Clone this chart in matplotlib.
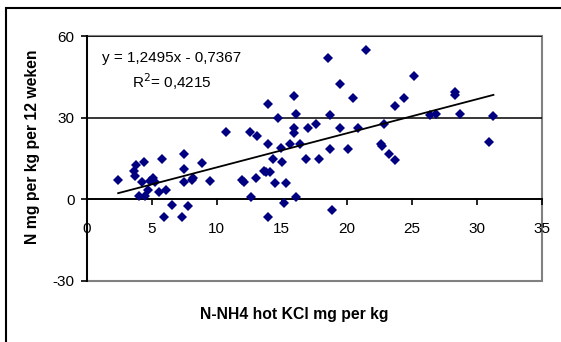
import numpy as np
import matplotlib
matplotlib.use("Agg")
import matplotlib.pyplot as plt
from matplotlib.patches import Rectangle

plt.rcParams['font.family'] = ['Liberation Sans', 'DejaVu Sans']
plt.rcParams['axes.unicode_minus'] = False

# N-NH4 hot KCl (mg/kg) vs N mineralised in 12 weeks (mg/kg)
nh4_kcl = [2.4, 3.6, 3.8, 3.7, 4.0, 4.4, 4.5, 4.2, 4.7, 4.85, 5.05, 5.25, 5.55, 5.8,
           6.1, 5.95, 6.55, 7.3, 7.5, 7.5, 7.5, 7.75, 8.05, 8.2, 8.85, 9.5, 10.7, 11.9,
           12.1, 12.55, 12.6, 13.05, 13.1, 13.6, 13.75, 13.95, 13.95, 14.1, 14.3, 13.95,
           14.5, 14.7, 14.95, 15.0, 15.3, 15.15, 15.6, 15.95, 15.95, 15.95, 16.1, 16.1,
           16.4, 16.9, 17.0, 17.6, 17.85, 18.55, 18.7, 18.7, 18.85, 19.45, 19.45, 20.1,
           20.5, 20.85, 21.45, 22.65, 22.7, 22.85, 23.25, 23.7, 23.75, 24.4, 25.15, 26.4,
           26.9, 28.35, 28.35, 28.7, 30.95, 31.3]
n_12wk = [7.1, 10.5, 12.6, 8.7, 1.3, 13.8, 1.3, 6.2, 3.4, 6.8, 8.0, 6.2, 2.8, 14.8,
          3.4, -6.6, -2.0, -6.6, 16.8, 11.1, 6.5, -2.3, 7.1, 7.7, 13.2, 6.6, 24.9, 7.1,
          6.2, 24.9, 0.7, 8.0, 23.3, 10.5, 9.9, 34.9, 20.5, 10.1, 14.8, -6.6,
          5.9, 30.0, 19.0, 13.8, 5.9, -1.3, 20.5, 37.9, 26.3, 24.5, 31.5, 0.7,
          20.5, 14.8, 26.3, 27.8, 14.8, 52.0, 31.0, 18.4, -3.8, 42.4, 26.3, 18.4,
          37.3, 26.3, 54.8, 20.5, 19.6, 27.6, 16.8, 34.3, 14.5, 37.3, 45.2, 31.0,
          31.2, 39.4, 38.5, 31.2, 21.2, 30.6]

# trendline as printed on the chart
slope = 1.2495
intercept = -0.7367
r_squared = 0.4215

xticks = [0, 5, 10, 15, 20, 25, 30, 35]
yticks = [-30, 0, 30, 60]

fig = plt.figure(figsize=(5.61, 3.42), dpi=100)
ax = fig.add_axes([87 / 561, 1 - 281 / 342, 454.5 / 561, 245 / 342])

ax.set_xlim(0, 35)
ax.set_ylim(-30, 60)

for g in [30, 60]:
    ax.axhline(g, color='black', lw=1.1, zorder=1)

ax.plot(nh4_kcl, n_12wk, 'D', color='#000080', ms=5.3, mew=0, zorder=3)

x_line = np.array([min(nh4_kcl), max(nh4_kcl)])
ax.plot(x_line, slope * x_line + intercept, color='black', lw=1.3, zorder=4)

# plot area frame
ax.add_patch(Rectangle((0, 0), 1, 1, transform=ax.transAxes, fill=False,
                       ec='#808080', lw=1.5, clip_on=False, zorder=0))
ax.spines['top'].set_visible(False)
ax.spines['right'].set_visible(False)
ax.spines['left'].set_linewidth(1.4)
ax.spines['bottom'].set_position(('data', 0))
ax.spines['bottom'].set_linewidth(1.4)

ax.set_xticks(xticks)
ax.set_yticks(yticks)
ax.tick_params(axis='x', direction='out', length=4, width=1.2, pad=12, labelsize=11)
ax.tick_params(axis='y', direction='out', length=4, width=1.2, pad=5, labelsize=11)

eq = f"y = {slope:.4f}x - {abs(intercept):.4f}".replace('.', ',')
r2 = f"R$^2$= {r_squared:.4f}".replace('.', ',')
ax.text(101.5 / 561, 1 - 58 / 342, eq, transform=fig.transFigure, fontsize=11,
        ha='left', va='center')
ax.text(131.5 / 561, 1 - 82 / 342, r2, transform=fig.transFigure, fontsize=11,
        ha='left', va='center')

fig.text(33 / 561, 1 - 147 / 342, "N mg per kg per 12 weken", rotation=90,
         fontsize=11.3, fontweight='bold', ha='center', va='center')
fig.text(294 / 561, 1 - 314 / 342, "N-NH4 hot KCl mg per kg",
         fontsize=11.3, fontweight='bold', ha='center', va='center')

# outer chart border (cut off at right and bottom)
fig.patches.append(Rectangle((6 / 561, -0.2), 1.2, 0.2 + 1 - 8 / 342,
                             transform=fig.transFigure, fill=False,
                             ec='black', lw=1.5))

fig.savefig("out.png", dpi=100)
